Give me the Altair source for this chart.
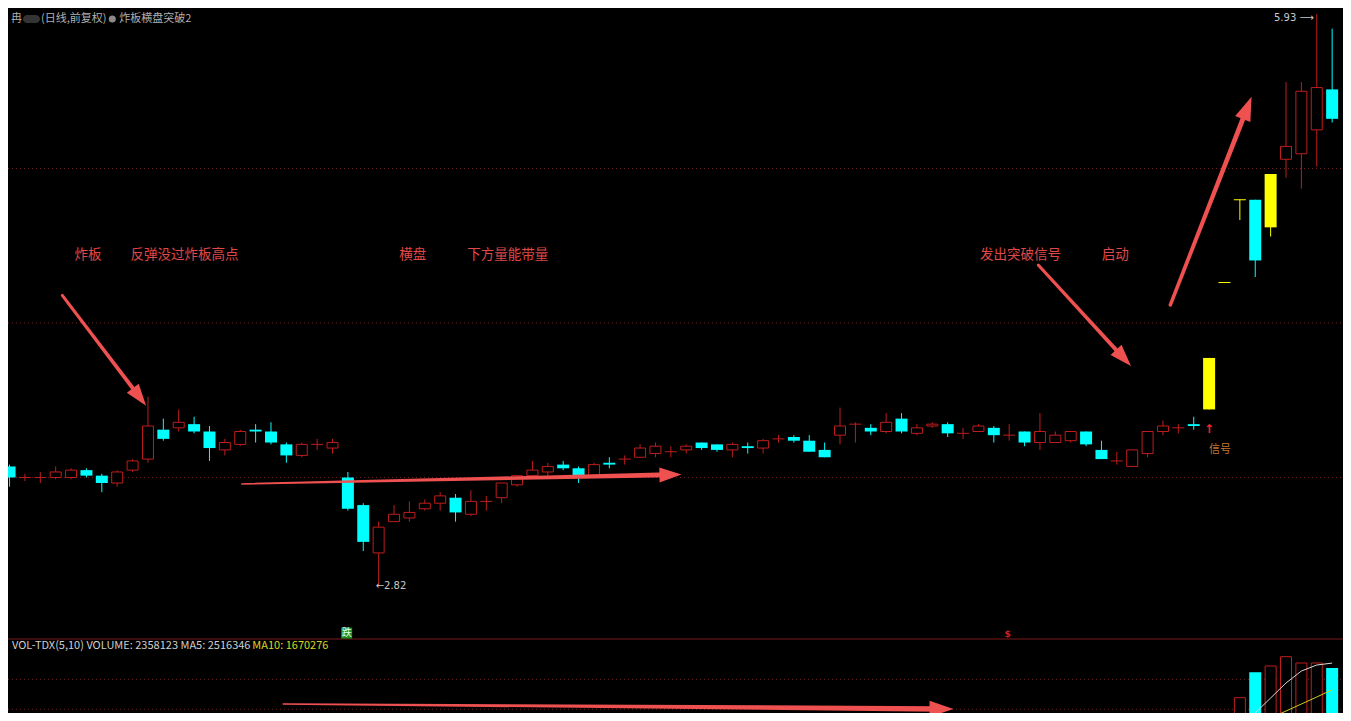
import math
import altair as alt
import pandas as pd

# ------------------------------------------------------------------ data
opens = [3.47, 3.41, 3.41, 3.41, 3.41, 3.45, 3.42, 3.38, 3.45, 3.51,
         3.67, 3.68, 3.70, 3.66, 3.56, 3.59, 3.67, 3.66, 3.59, 3.53,
         3.59, 3.57, 3.41, 3.26, 3.00, 3.17, 3.19, 3.24, 3.27, 3.30,
         3.21, 3.28, 3.30, 3.37, 3.42, 3.44, 3.48, 3.46, 3.41, 3.49,
         3.51, 3.52, 3.54, 3.55, 3.56, 3.60, 3.59, 3.56, 3.58, 3.57,
         3.62, 3.63, 3.61, 3.56, 3.64, 3.70, 3.68, 3.66, 3.73, 3.65,
         3.69, 3.70, 3.65, 3.66, 3.68, 3.64, 3.66, 3.60, 3.60, 3.61,
         3.66, 3.56, 3.50, 3.47, 3.54, 3.66, 3.68, 3.70, 3.78, 4.47,
         4.92, 4.92, 4.77, 5.14, 5.17, 5.30, 5.52]
highs = [3.48, 3.43, 3.44, 3.47, 3.46, 3.46, 3.43, 3.45, 3.51, 3.85,
         3.73, 3.78, 3.74, 3.69, 3.62, 3.67, 3.70, 3.71, 3.60, 3.60,
         3.62, 3.62, 3.44, 3.27, 3.17, 3.26, 3.28, 3.29, 3.33, 3.32,
         3.34, 3.31, 3.38, 3.42, 3.50, 3.49, 3.50, 3.47, 3.49, 3.52,
         3.53, 3.59, 3.60, 3.58, 3.59, 3.60, 3.59, 3.60, 3.60, 3.62,
         3.64, 3.64, 3.64, 3.60, 3.79, 3.71, 3.70, 3.76, 3.76, 3.70,
         3.71, 3.71, 3.68, 3.70, 3.69, 3.70, 3.66, 3.76, 3.66, 3.66,
         3.66, 3.61, 3.55, 3.56, 3.66, 3.72, 3.70, 3.74, 4.06, 4.47,
         4.92, 4.92, 5.06, 5.56, 5.56, 5.93, 5.85]
lows = [3.36, 3.39, 3.38, 3.40, 3.40, 3.41, 3.33, 3.36, 3.44, 3.49,
        3.61, 3.66, 3.65, 3.50, 3.53, 3.58, 3.60, 3.59, 3.49, 3.52,
        3.56, 3.54, 3.23, 3.01, 2.82, 3.17, 3.17, 3.23, 3.23, 3.17,
        3.20, 3.23, 3.27, 3.36, 3.41, 3.42, 3.45, 3.38, 3.41, 3.46,
        3.48, 3.52, 3.52, 3.52, 3.54, 3.56, 3.55, 3.52, 3.54, 3.54,
        3.60, 3.60, 3.55, 3.52, 3.59, 3.60, 3.64, 3.65, 3.65, 3.64,
        3.68, 3.63, 3.62, 3.66, 3.60, 3.61, 3.58, 3.56, 3.60, 3.60,
        3.58, 3.51, 3.48, 3.47, 3.52, 3.64, 3.65, 3.67, 3.78, 4.47,
        4.81, 4.50, 4.72, 5.04, 4.98, 5.10, 5.34]
closes = [3.41, 3.41, 3.41, 3.44, 3.45, 3.42, 3.38, 3.44, 3.50, 3.69,
          3.62, 3.71, 3.66, 3.57, 3.60, 3.66, 3.66, 3.60, 3.53, 3.59,
          3.59, 3.60, 3.24, 3.06, 3.14, 3.21, 3.22, 3.27, 3.31, 3.22,
          3.28, 3.28, 3.38, 3.42, 3.45, 3.47, 3.46, 3.42, 3.48, 3.48,
          3.51, 3.57, 3.58, 3.55, 3.58, 3.57, 3.56, 3.59, 3.57, 3.61,
          3.62, 3.61, 3.55, 3.52, 3.69, 3.70, 3.66, 3.71, 3.66, 3.68,
          3.70, 3.65, 3.65, 3.69, 3.64, 3.64, 3.60, 3.66, 3.64, 3.66,
          3.59, 3.51, 3.50, 3.56, 3.66, 3.69, 3.68, 3.69, 4.06, 4.47,
          4.92, 4.59, 5.06, 5.21, 5.51, 5.53, 5.36]
limit_up_days = [78, 79, 80, 82]

vol_days = [9, 80, 81, 82, 83, 84, 85, 86]
vol_values = [818000, 1420000, 2225000, 2425000, 2720000, 2520000, 2520000, 2358123]
ma5_days = [80, 81, 82, 83, 84, 85, 86]
ma5_values = [440000, 935000, 1410000, 1886000, 2266000, 2456000, 2516346]
ma10_days = [81, 82, 83, 84, 85, 86]
ma10_values = [555000, 776000, 998000, 1220000, 1442000, 1670276]

price_grid = [3.41, 4.25, 5.09]
vol_grid = [1052000, 2003000]

note_texts = ["炸板", "反弹没过炸板高点", "横盘", "下方量能带量", "发出突破信号", "启动"]
note_i = [5.10, 11.38, 26.22, 32.40, 65.74, 71.89]
note_p = [4.62, 4.62, 4.62, 4.62, 4.62, 4.62]

# annotation arrows in the price pane: start (index, price) -> tip (index, price)
arrow_i0 = [3.43, 15.10, 66.89, 75.48]
arrow_p0 = [4.40, 3.375, 4.565, 4.348]
arrow_i1 = [8.88, 43.69, 72.92, 80.76]
arrow_p1 = [3.80, 3.426, 4.016, 5.480]
# annotation arrow in the volume pane
varrow_i = [17.79, 61.38]
varrow_v = [1220000, 1062000]

signal_day = 78
signal_label = "信号"
fall_label = "跌"
fall_i, fall_p = 21.92, 2.564
dollar_i, dollar_p = 64.9, 2.559

title_name = "冉"
title_mode = "(日线,前复权)"
title_formula = "炸板横盘突破2"

# ------------------------------------------------------------------ layout / style
W, H = 1335, 705
OFF = 8
SP, X0 = 15.6, 4.5            # candle spacing / first candle centre (reference px)
SX = (1337 - OFF) / (1346 - OFF)   # squeeze so the last candle stays inside the page
K = 0.005437                  # price per pixel
P_REF, Y_REF = 2.82, 586
S = 3.155e-5                  # pixel per share in the volume pane
V0_Y = 742.5


def px(ref_x):
    return (ref_x - OFF) * SX


BG = "#000000"
RED = "#bf1d1d"
CYAN = "#00ffff"
YELLOW = "#ffff00"
ARROW = "#ef5050"
NOTE = "#e04848"
GRID = "#6e2222"
FONT = "Noto Sans CJK SC"

XS = alt.Scale(domain=[(OFF - X0) / SP, (OFF + W / SX - X0) / SP], nice=False, zero=False)
PS = alt.Scale(domain=[P_REF - (OFF + H - Y_REF) * K, P_REF + (Y_REF - OFF) * K], nice=False, zero=False)
VS = alt.Scale(domain=[(V0_Y - OFF - H) / S, (V0_Y - OFF) / S], nice=False, zero=False)
KS = alt.Scale(domain=["up", "down", "limit"], range=[RED, CYAN, YELLOW])

n = len(closes)
kinds = []
for d in range(n):
    if d in limit_up_days:
        kinds.append("limit")
    elif closes[d] >= opens[d]:
        kinds.append("up")
    else:
        kinds.append("down")
df = pd.DataFrame(dict(i=list(range(n)), o=opens, h=highs, l=lows, c=closes, kind=kinds))
df["flat"] = (df["o"] - df["c"]).abs() < 0.005

X = alt.X("i:Q", scale=XS, axis=None)
col = alt.Color("kind:N", scale=KS, legend=None)

# grid + separator
pgrid = alt.Chart(pd.DataFrame({"p": price_grid})).mark_rule(
    color=GRID, strokeDash=[1, 3], strokeWidth=1).encode(
    y=alt.Y("p:Q", scale=PS, axis=None), x=alt.value(0), x2=alt.value(W))
vgrid = alt.Chart(pd.DataFrame({"v": vol_grid})).mark_rule(
    color=GRID, strokeDash=[1, 3], strokeWidth=1).encode(
    y=alt.Y("v:Q", scale=VS, axis=None), x=alt.value(0), x2=alt.value(W))
sep = alt.Chart(pd.DataFrame({"a": [0]})).mark_rule(color="#7a1818", strokeWidth=1).encode(
    y=alt.value(639 - OFF), x=alt.value(0), x2=alt.value(W))

# candles
base = alt.Chart(df)
wicks = base.mark_rule(strokeWidth=1).encode(
    x=X, y=alt.Y("l:Q", scale=PS, axis=None), y2="h:Q", color=col)
hollow = base.transform_filter("datum.kind == 'up' && !datum.flat").mark_bar(
    width=11, fill=BG, stroke=RED, strokeWidth=1).encode(
    x=X, y=alt.Y("o:Q", scale=PS, axis=None), y2="c:Q")
filled = base.transform_filter("datum.kind != 'up' && !datum.flat").mark_bar(width=12).encode(
    x=X, y=alt.Y("o:Q", scale=PS, axis=None), y2="c:Q", color=col)
flat = base.transform_filter("datum.flat").mark_rule(xOffset=-6, x2Offset=6, strokeWidth=1).encode(
    x=X, x2="i:Q", y=alt.Y("c:Q", scale=PS, axis=None), color=col)

# volume
vdf = pd.DataFrame(dict(i=vol_days, v=vol_values))
vdf["kind"] = ["up" if closes[d] >= opens[d] else "down" for d in vol_days]
vdf["zero"] = 0
vh = alt.Chart(vdf).transform_filter("datum.kind == 'up'").mark_bar(
    width=11, fill=BG, stroke=RED, strokeWidth=1, clip=True).encode(
    x=X, y=alt.Y("v:Q", scale=VS, axis=None), y2="zero:Q")
vf = alt.Chart(vdf).transform_filter("datum.kind == 'down'").mark_bar(
    width=12, color=CYAN, clip=True).encode(
    x=X, y=alt.Y("v:Q", scale=VS, axis=None), y2="zero:Q")
ma5 = alt.Chart(pd.DataFrame(dict(i=ma5_days, v=ma5_values))).mark_line(
    color="#d8d8d8", strokeWidth=1, clip=True).encode(x=X, y=alt.Y("v:Q", scale=VS, axis=None))
ma10 = alt.Chart(pd.DataFrame(dict(i=ma10_days, v=ma10_values))).mark_line(
    color="#d0d020", strokeWidth=1, clip=True).encode(x=X, y=alt.Y("v:Q", scale=VS, axis=None))

# arrows
HEAD = "M0,0L-2,-0.68L-2,0.68Z"
arrow_w = [(3.0, 4.0), (1.5, 5.0), (3.0, 4.0), (3.5, 5.0)]
head_len = [22, 22, 22, 24]
shaft_rows, head_rows = [], []
for a in range(len(arrow_i0)):
    dx = (arrow_i1[a] - arrow_i0[a]) * SP * SX
    dy = (arrow_p0[a] - arrow_p1[a]) / K
    ang = math.atan2(dy, dx)
    back = 0.6 * head_len[a]
    ie = arrow_i1[a] - back * math.cos(ang) / (SP * SX)
    pe = arrow_p1[a] + back * math.sin(ang) * K
    shaft_rows.append(dict(aid=a, ord=0, i=arrow_i0[a], p=arrow_p0[a], w=arrow_w[a][0]))
    shaft_rows.append(dict(aid=a, ord=1, i=ie, p=pe, w=arrow_w[a][1]))
    head_rows.append(dict(i=arrow_i1[a], p=arrow_p1[a], ang=math.degrees(ang) % 360,
                          s=head_len[a] ** 2))
shafts = alt.Chart(pd.DataFrame(shaft_rows)).mark_trail(color=ARROW).encode(
    x=X, y=alt.Y("p:Q", scale=PS, axis=None), size=alt.Size("w:Q", scale=None, legend=None),
    detail="aid:N", order="ord:Q")
heads = alt.Chart(pd.DataFrame(head_rows)).mark_point(
    shape=HEAD, filled=True, color=ARROW, opacity=1, strokeWidth=0).encode(
    x=X, y=alt.Y("p:Q", scale=PS, axis=None), angle=alt.Angle("ang:Q", scale=None),
    size=alt.Size("s:Q", scale=None, legend=None))

vdx = (varrow_i[1] - varrow_i[0]) * SP * SX
vdy = (varrow_v[0] - varrow_v[1]) * S
vang = math.atan2(vdy, vdx)
vlen = 24
vback = 0.6 * vlen
vshaft = alt.Chart(pd.DataFrame([
    dict(aid=0, ord=0, i=varrow_i[0], v=varrow_v[0], w=1.5),
    dict(aid=0, ord=1, i=varrow_i[1] - vback * math.cos(vang) / (SP * SX),
         v=varrow_v[1] + vback * math.sin(vang) / S, w=5.5)])).mark_trail(color=ARROW, clip=True).encode(
    x=X, y=alt.Y("v:Q", scale=VS, axis=None), size=alt.Size("w:Q", scale=None, legend=None),
    detail="aid:N", order="ord:Q")
vhead = alt.Chart(pd.DataFrame([dict(i=varrow_i[1], v=varrow_v[1], ang=math.degrees(vang) % 360,
                                     s=vlen ** 2)])).mark_point(
    shape=HEAD, filled=True, color=ARROW, opacity=1, strokeWidth=0, clip=True).encode(
    x=X, y=alt.Y("v:Q", scale=VS, axis=None), angle=alt.Angle("ang:Q", scale=None),
    size=alt.Size("s:Q", scale=None, legend=None))

# texts
notes = alt.Chart(pd.DataFrame(dict(t=note_texts, i=note_i, p=note_p))).mark_text(
    font=FONT, fontSize=13.5, color=NOTE, align="center", baseline="middle").encode(
    x=X, y=alt.Y("p:Q", scale=PS, axis=None), text="t:N")

lo_val = min(lows)
hi_val = max(highs)
lo_day = lows.index(lo_val)
hi_day = highs.index(hi_val)
lo_txt = alt.Chart(pd.DataFrame(dict(t=[f"←{lo_val:.2f}"], i=[lo_day], p=[lo_val]))).mark_text(
    font="DejaVu Sans", fontSize=10, color="#c8c8c8", align="left", baseline="middle", dx=-3).encode(
    x=X, y=alt.Y("p:Q", scale=PS, axis=None), text="t:N")
hi_txt = alt.Chart(pd.DataFrame(dict(t=[f"{hi_val:.2f} ⟶"], i=[hi_day], p=[hi_val]))).mark_text(
    font="DejaVu Sans", fontSize=10, color="#c8c8c8", align="right", baseline="middle", dx=-3, dy=4).encode(
    x=X, y=alt.Y("p:Q", scale=PS, axis=None), text="t:N")

sig_up = alt.Chart(pd.DataFrame(dict(t=["↑"], i=[signal_day], p=[lows[signal_day]]))).mark_text(
    font="DejaVu Sans", fontSize=12, fontWeight="bold", color="#ff2424", align="center",
    baseline="middle", dy=20).encode(x=X, y=alt.Y("p:Q", scale=PS, axis=None), text="t:N")
sig_txt = alt.Chart(pd.DataFrame(dict(t=[signal_label], i=[signal_day], p=[lows[signal_day]]))).mark_text(
    font=FONT, fontSize=11, color="#c07830", align="center", baseline="middle", dx=11, dy=41).encode(
    x=X, y=alt.Y("p:Q", scale=PS, axis=None), text="t:N")

fall_box = alt.Chart(pd.DataFrame(dict(i=[fall_i], p=[fall_p]))).mark_square(
    size=121, color="#1e8c1e", opacity=1).encode(x=X, y=alt.Y("p:Q", scale=PS, axis=None))
fall_txt = alt.Chart(pd.DataFrame(dict(t=[fall_label], i=[fall_i], p=[fall_p]))).mark_text(
    font=FONT, fontSize=10, color="#e8ffe8", align="center", baseline="middle").encode(
    x=X, y=alt.Y("p:Q", scale=PS, axis=None), text="t:N")
dollar_txt = alt.Chart(pd.DataFrame(dict(t=["$"], i=[dollar_i], p=[dollar_p]))).mark_text(
    font="DejaVu Sans", fontSize=9, fontWeight="bold", color="#d02020", align="center",
    baseline="middle").encode(x=X, y=alt.Y("p:Q", scale=PS, axis=None), text="t:N")

one = pd.DataFrame({"a": [0]})
vol_head1 = alt.Chart(pd.DataFrame({"t": [
    f"VOL-TDX(5,10) VOLUME: {vol_values[-1]} MA5: {ma5_values[-1]}"]})).mark_text(
    font=FONT, fontSize=11, color="#cfcfcf", align="left", baseline="middle").encode(
    x=alt.value(px(12)), y=alt.value(646 - OFF), text="t:N")
vol_head2 = alt.Chart(pd.DataFrame({"t": [f"MA10: {ma10_values[-1]}"]})).mark_text(
    font=FONT, fontSize=11, color="#d8d820", align="left", baseline="middle").encode(
    x=alt.value(px(254)), y=alt.value(646 - OFF), text="t:N")

TY = 11
t_name = alt.Chart(pd.DataFrame({"t": [title_name]})).mark_text(
    font=FONT, fontSize=11, color="#b0b0b0", align="left", baseline="middle").encode(
    x=alt.value(3), y=alt.value(TY), text="t:N")
t_blur = alt.Chart(one).mark_rect(color="#4a4a4a", opacity=0.7, cornerRadius=4).encode(
    x=alt.value(15), x2=alt.value(32), y=alt.value(TY - 4), y2=alt.value(TY + 4))
t_mode = alt.Chart(pd.DataFrame({"t": [title_mode]})).mark_text(
    font=FONT, fontSize=11, color="#b0b0b0", align="left", baseline="middle").encode(
    x=alt.value(33), y=alt.value(TY), text="t:N")
t_icon = alt.Chart(one).mark_circle(size=50, color="#8a8a8a", opacity=1).encode(
    x=alt.value(px(113)), y=alt.value(TY))
t_form = alt.Chart(pd.DataFrame({"t": [title_formula]})).mark_text(
    font=FONT, fontSize=11, color="#b0b0b0", align="left", baseline="middle").encode(
    x=alt.value(px(120)), y=alt.value(TY), text="t:N")

chart = alt.layer(
    pgrid, vgrid, sep,
    wicks, hollow, filled, flat,
    vh, vf, ma5, ma10,
    shafts, heads, vshaft, vhead,
    notes, lo_txt, hi_txt, sig_up, sig_txt, fall_box, fall_txt, dollar_txt,
    vol_head1, vol_head2, t_name, t_blur, t_mode, t_icon, t_form,
).resolve_scale(y="independent").properties(
    width=W, height=H, padding=0, background=BG,
    autosize=alt.AutoSizeParams(type="none"),
).configure_view(stroke=None, fill=BG)

chart.save("out.html", embed_options={"renderer": "svg", "actions": False})
